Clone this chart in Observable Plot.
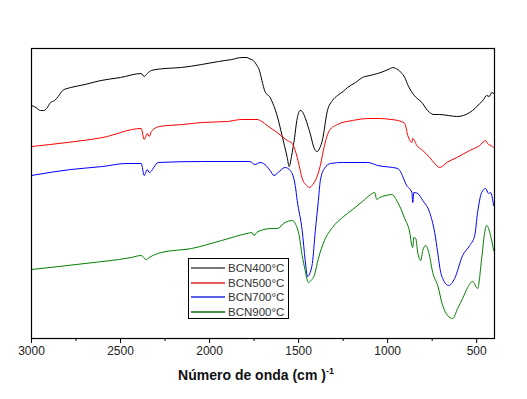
<!DOCTYPE html>
<html><head><meta charset="utf-8">
<script src="https://cdn.jsdelivr.net/npm/d3@7"></script>
<script src="https://cdn.jsdelivr.net/npm/@observablehq/plot@0.6"></script>
<style>
body{margin:0;background:#fff;font-family:"Liberation Sans",Arial,sans-serif}
#wrap{position:relative;width:527px;height:399px}
#xlabel{position:absolute;left:0;width:512px;top:366px;text-align:center;font-weight:bold;font-size:14px;color:#111}
#xlabel sup{font-size:9px;font-weight:bold;vertical-align:6px}
#legend{position:absolute;left:188px;top:258px;width:101px;height:61px;border:1px solid #000;background:#fff;box-sizing:border-box;padding-top:2px}
.row{height:14.5px;display:flex;align-items:center;font-size:11.5px;color:#333;line-height:14px}
.row svg{margin-left:2px;margin-right:3px;display:block}
</style></head><body><div id="wrap"><div id="chart"></div></div>
<script>
const xTicks = [3000, 2500, 2000, 1500, 1000, 500];
const minorTicks = [2750, 2250, 1750, 1250, 750];
const series = ["BCN400°C", "BCN500°C", "BCN700°C", "BCN900°C"];
const colors = ["#000000", "#ff0000", "#0000ff", "#008000"];
const legendColors = ["#777777", "#e02020", "#2030e0", "#107010"];

// BCN400°C
const wn400 = [3000,2975,2950,2932,2915,2893,2870,2850,2825,2800,2780,2700,2610,2500,2384,2367,2350,2327,2250,2158,2045,1950,1875,1819,1790,1779,1755,1734,1720,1706,1689,1660,1640,1621,1593,1564,1553,1540,1525,1508,1491,1480,1468,1440,1406,1395,1380,1367,1338,1310,1282,1250,1225,1180,1141,1100,1056,1010,985,971,955,943,925,904,885,859,840,803,785,764,740,708,660,612,575,539,510,483,465,444,430,415,405];
const t400 = [233,231,228,228,230,236,238,242,248,250,251,254,258,261,265,262,265,268,270,271,274,277,279,281,281,280,278,273,268,258,247,241,233,223,203,181,172,182,198,220,228,227,223,208,188,187,191,198,228,238,243,247,251,256,261,263,265,268,270,271,270,269,266,261,253,245,241,235,230,226,224,224,223,222,223,226,230,235,238,243,242,246,245];

// BCN500°C
const wn500 = [3000,2800,2600,2384,2367,2350,2339,2327,2282,2150,2045,1900,1819,1734,1706,1677,1621,1564,1536,1519,1497,1480,1455,1440,1420,1406,1378,1355,1327,1282,1197,1101,1044,980,943,904,887,864,859,836,803,764,736,708,668,612,539,483,450,439,420,405];
const t500 = [192,196,201,210,199,205,202,207,212,214,216,217,219,219,217,213,206,198,195,188,173,160,153,151,154,158,173,193,208,214,218,220,220,219,218,215,203,196,200,193,188,181,175,171,176,181,188,193,198,195,193,191];

// BCN700°C
const wn700 = [3000,2780,2600,2469,2384,2367,2350,2339,2288,2045,1774,1745,1717,1689,1660,1638,1615,1576,1547,1519,1508,1480,1463,1450,1435,1423,1406,1389,1378,1355,1321,1254,1112,1056,943,932,893,864,859,853,831,803,764,736,719,702,691,657,624,579,539,511,495,472,450,433,422,405];
const t700 = [163,169,172,175,175,163,169,166,176,177,177,174,176,174,168,163,166,171,168,153,138,108,78,62,66,75,108,138,158,170,175,176,176,173,170,168,153,146,136,146,145,138,126,106,86,66,60,53,60,83,93,103,126,146,150,145,146,133];

// BCN900°C
const wn900 = [3000,2700,2440,2384,2356,2339,2271,2101,1932,1790,1762,1751,1728,1649,1621,1576,1536,1519,1497,1480,1463,1451,1445,1430,1412,1389,1355,1310,1254,1197,1141,1095,1073,1061,1044,1010,977,943,904,876,864,859,853,842,831,814,803,786,769,747,719,691,663,635,607,579,551,523,495,472,455,444,422,405];
const t900 = [69,75,81,83,79,81,86,90,98,105,106,103,107,110,110,116,118,115,103,83,68,58,56,58,63,80,98,111,121,129,137,144,146,139,141,143,144,136,120,106,93,91,101,100,86,78,88,93,86,66,53,33,23,20,30,40,51,57,50,80,106,113,103,88];

const rows = [];
[[wn400,t400],[wn500,t500],[wn700,t700],[wn900,t900]].forEach(([w,t],i)=>{
  w.forEach((x,j)=>rows.push({s:series[i], w:x, t:t[j]}));
});

const chart = Plot.plot({
  width: 527, height: 399,
  marginLeft: 31, marginRight: 33, marginTop: 48, marginBottom: 61,
  style: {fontFamily: '"Liberation Sans", Arial, sans-serif', fontSize: "12px", color: "#222", background: "#fff"},
  x: {domain: [3000, 400], label: null},
  y: {domain: [0, 290], axis: null},
  color: {domain: series, range: colors},
  marks: [
    Plot.axisX({ticks: xTicks, tickSize: 5, tickPadding: 3, tickFormat: d => String(d), label: null, stroke: "#000"}),
    Plot.axisX({ticks: minorTicks, tickSize: 3, tickFormat: () => "", label: null, stroke: "#000"}),
    Plot.line(rows, {x: "w", y: "t", z: "s", stroke: "s", strokeWidth: 1, curve: "monotone-x"}),
    Plot.frame({stroke: "#000", strokeWidth: 1.2})
  ]
});
document.getElementById("chart").appendChild(chart);

const wrap = document.getElementById("wrap");
const lab = document.createElement("div");
lab.id = "xlabel";
lab.innerHTML = "Número de onda (cm )<sup>-1</sup>";
wrap.appendChild(lab);
const lg = document.createElement("div");
lg.id = "legend";
series.forEach((s,i)=>{
  const r = document.createElement("div"); r.className = "row";
  r.innerHTML = `<svg width="34" height="4"><line x1="0" x2="34" y1="2" y2="2" stroke="${legendColors[i]}" stroke-width="${i===0?2:1.5}"/></svg><span>${s}</span>`;
  lg.appendChild(r);
});
wrap.appendChild(lg);
</script></body></html>
